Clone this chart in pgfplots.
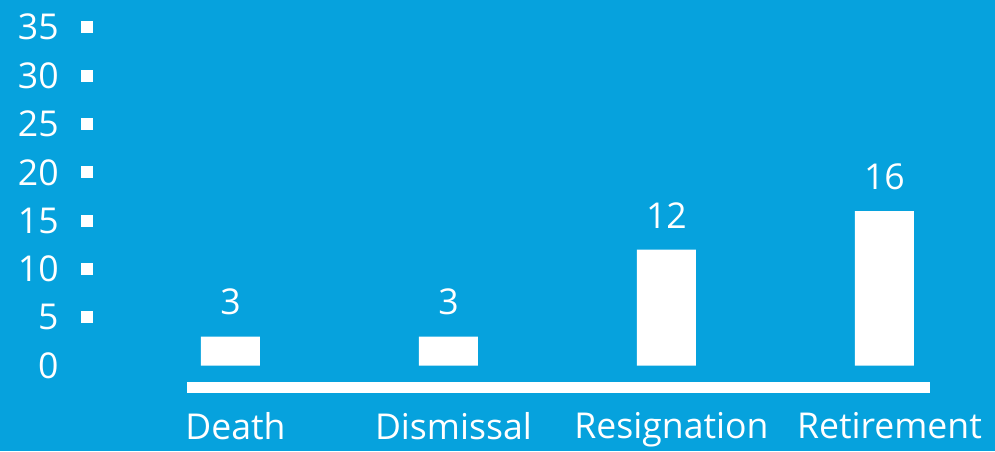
\documentclass[border=0pt]{standalone}
\usepackage{pgfplots}
\pgfplotsset{compat=1.18}
\usepackage{fontspec}
\setmainfont{Open Sans}
\definecolor{bg}{RGB}{6,162,221}
\newcommand{\lblfont}{\fontsize{17.8}{21}\selectfont}
\begin{document}
\begin{tikzpicture}
\fill[bg] (0,0) rectangle (497.5pt,225.5pt);
\useasboundingbox (0,0) rectangle (497.5pt,225.5pt);
\begin{axis}[
  at={(43.5pt,32pt)}, anchor=south west,
  scale only axis, width=421.5pt, height=193.5pt,
  xmin=-0.658, xmax=3.209, ymin=-2.2, ymax=37.82,
  clip=false,
  axis line style={draw=none},
  xtick={0,1,2,3},
  xticklabels={Death,Dismissal,Resignation,Retirement},
  xtick pos=bottom,
  xtick style={draw=none},
  ytick={5,10,...,35},
  extra y ticks={0},
  extra y tick style={tick style={draw=none}},
  ytick pos=left,
  ytick style={white, line width=6pt},
  major tick length=6pt, tick align=center,
  /pgf/number format/assume math mode=true,
  tick label style={font=\lblfont, text=white},
  yticklabel style={anchor=east, inner sep=0pt, xshift=-11pt},
  xticklabel style={anchor=north, inner sep=0pt, yshift=-9.5pt, xshift=2.5pt},
]
\addplot[white, line width=5.5pt, mark=none, forget plot] coordinates {(-0.2,-2.2) (3.209,-2.2)};
\addplot[ybar, bar width=29.5pt, fill=white, draw=none,
  nodes near coords,
  nodes near coords style={font=\lblfont, text=white, inner sep=0pt, anchor=south, yshift=10.5pt}]
  coordinates {(0,3) (1,3) (2,12) (3,16)};
\end{axis}
\end{tikzpicture}
\end{document}
